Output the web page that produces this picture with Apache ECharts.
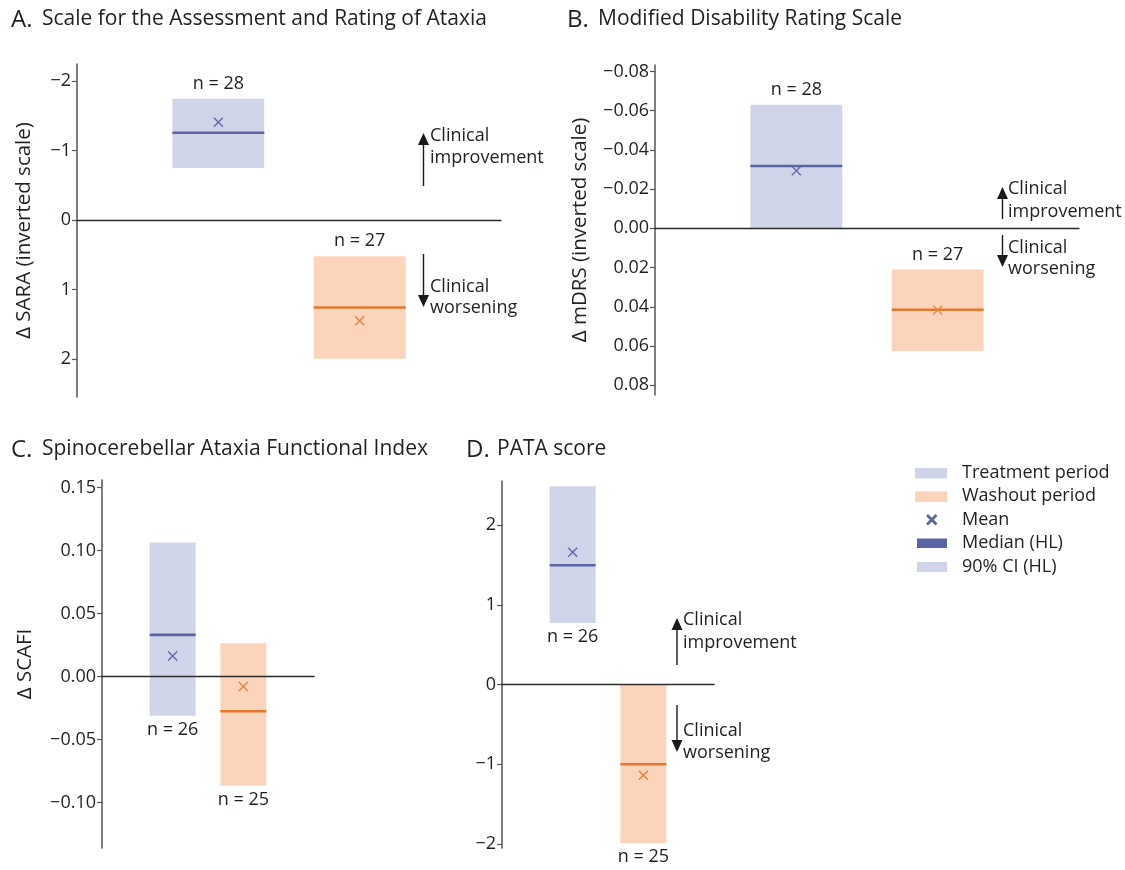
<!DOCTYPE html>
<html><head><meta charset="utf-8">
<script src="https://cdn.jsdelivr.net/npm/echarts@6/dist/echarts.min.js"></script>
<style>html,body{margin:0;padding:0;background:#fff}#c{width:1125px;height:870px}</style>
</head><body><div id="c"></div>
<script>
// ---------- DATA ----------
const periods = ['Treatment period', 'Washout period'];
const positions = [1, 2];

// A. SARA (inverted)
const saraCiLow = [-1.75, 0.52];
const saraCiHigh = [-0.75, 2.00];
const saraMedian = [-1.26, 1.26];
const saraMean = [-1.41, 1.45];
const saraN = [28, 27];
const saraTicks = [-2, -1, 0, 1, 2];

// B. mDRS (inverted)
const mdrsCiLow = [-0.063, 0.021];
const mdrsCiHigh = [0.0, 0.0625];
const mdrsMedian = [-0.0318, 0.0415];
const mdrsMean = [-0.0294, 0.0417];
const mdrsN = [28, 27];
const mdrsTicks = [-0.08, -0.06, -0.04, -0.02, 0, 0.02, 0.04, 0.06, 0.08];

// C. SCAFI
const scafiCiLow = [-0.031, -0.0865];
const scafiCiHigh = [0.1065, 0.0265];
const scafiMedian = [0.0331, -0.0275];
const scafiMean = [0.0164, -0.0079];
const scafiN = [26, 25];
const scafiTicks = [0.15, 0.10, 0.05, 0, -0.05, -0.10];

// D. PATA
const pataCiLow = [0.773, -1.987];
const pataCiHigh = [2.49, 0.0];
const pataMedian = [1.497, -1.0];
const pataMean = [1.66, -1.138];
const pataN = [26, 25];
const pataTicks = [2, 1, 0, -1, -2];

// ---------- STYLE ----------
const FONT = '"Open Sans", "Noto Sans", sans-serif';
const TXT = '#231f20';
const boxFill = ['#d0d4e8', '#fcd4bb'];
const medColor = ['#5a64a5', '#e8772e'];
const meanColor = ['#5e68aa', '#e8803c'];
const HALF = 0.325;

function minus(s) { return s.replace('-', '\u2212'); }

const panels = [
  { grid: { left: 77, top: 64, width: 424, height: 333 }, min: -2.25, max: 2.55, inverse: true, dec: 0,
    ticks: saraTicks, name: 'Δ SARA (inverted scale)', nameGap: 42, nSide: 'top',
    lo: saraCiLow, hi: saraCiHigh, med: saraMedian, mean: saraMean, n: saraN },
  { grid: { left: 655, top: 65, width: 424, height: 330 }, min: -0.0833, max: 0.085, inverse: true, dec: 2,
    ticks: mdrsTicks, name: 'Δ mDRS (inverted scale)', nameGap: 64, nSide: 'top',
    lo: mdrsCiLow, hi: mdrsCiHigh, med: mdrsMedian, mean: mdrsMean, n: mdrsN },
  { grid: { left: 102, top: 480, width: 212, height: 368 }, min: -0.136, max: 0.156, inverse: false, dec: 2,
    ticks: scafiTicks, name: 'Δ SCAFI', nameGap: 66, nSide: 'bottom',
    lo: scafiCiLow, hi: scafiCiHigh, med: scafiMedian, mean: scafiMean, n: scafiN },
  { grid: { left: 502, top: 481, width: 212, height: 367 }, min: -2.05, max: 2.555, inverse: false, dec: 0,
    ticks: pataTicks, name: '', nameGap: 40, nSide: 'bottom',
    lo: pataCiLow, hi: pataCiHigh, med: pataMedian, mean: pataMean, n: pataN }
];

const grid = [], xAxis = [], yAxis = [], series = [];
panels.forEach((p, k) => {
  grid.push(Object.assign({ containLabel: false }, p.grid));
  xAxis.push({
    type: 'value', gridIndex: k, min: 0, max: 3, z: 5,
    axisLine: { show: true, onZero: true, lineStyle: { color: '#2b2b2b', width: 1.3 } },
    axisTick: { show: false }, axisLabel: { show: false }, splitLine: { show: false }
  });
  yAxis.push({
    type: 'value', gridIndex: k, min: p.min, max: p.max, inverse: p.inverse,
    name: p.name, nameLocation: 'middle', nameGap: p.nameGap,
    nameTextStyle: { fontFamily: FONT, fontSize: 20.5, color: TXT },
    axisLine: { show: true, lineStyle: { color: '#555', width: 1.5 } },
    axisTick: { show: true, length: 5, customValues: p.ticks, lineStyle: { color: '#555', width: 1.2 } },
    axisLabel: { show: true, customValues: p.ticks, margin: 6, fontFamily: FONT, fontSize: 18, color: TXT,
      formatter: v => minus(Number(v).toFixed(p.dec)) },
    splitLine: { show: false }
  });
  const data = positions.map((x, i) => [x, p.lo[i], p.hi[i], p.med[i], p.mean[i], p.n[i]]);
  series.push({
    type: 'custom', xAxisIndex: k, yAxisIndex: k, z: 2, clip: false,
    encode: { x: 0, y: [1, 2, 3, 4] },
    data: data,
    renderItem: function (params, api) {
      const i = params.dataIndex;
      const x = api.value(0);
      const a = api.coord([x - HALF, api.value(1)]);
      const b = api.coord([x + HALF, api.value(2)]);
      const left = Math.min(a[0], b[0]), right = Math.max(a[0], b[0]);
      const top = Math.min(a[1], b[1]), bottom = Math.max(a[1], b[1]);
      const ym = api.coord([x, api.value(3)])[1];
      const pm = api.coord([x, api.value(4)]);
      const cx = (left + right) / 2;
      const s = 4.5;
      const ny = p.nSide === 'top' ? top - 15 : bottom + 14;
      return {
        type: 'group',
        children: [
          { type: 'rect', shape: { x: left, y: top, width: right - left, height: bottom - top },
            style: { fill: boxFill[i] } },
          { type: 'line', shape: { x1: left, y1: ym, x2: right, y2: ym },
            style: { stroke: medColor[i], lineWidth: 2.6 } },
          { type: 'line', shape: { x1: pm[0] - s, y1: pm[1] - s, x2: pm[0] + s, y2: pm[1] + s },
            style: { stroke: meanColor[i], lineWidth: 1.3 } },
          { type: 'line', shape: { x1: pm[0] - s, y1: pm[1] + s, x2: pm[0] + s, y2: pm[1] - s },
            style: { stroke: meanColor[i], lineWidth: 1.3 } },
          { type: 'text', style: { text: 'n = ' + api.value(5), x: cx, y: ny, fill: TXT,
            fontFamily: FONT, fontSize: 18, align: 'center', verticalAlign: 'middle' } }
        ]
      };
    }
  });
});

// ---------- annotations ----------
const graphic = [];
function title(x, y, letter, text) {
  graphic.push({ type: 'text', left: x, top: y - 15, style: { text: letter, fontFamily: FONT, fontSize: 24, fill: TXT } });
  graphic.push({ type: 'text', left: x + 31, top: y - 14, style: { text: text, fontFamily: FONT, fontSize: 21, fill: TXT } });
}
title(11, 23, 'A.', 'Scale for the Assessment and Rating of Ataxia');
title(567, 23, 'B.', 'Modified Disability Rating Scale');
title(11, 453, 'C.', 'Spinocerebellar Ataxia Functional Index');
title(466, 453, 'D.', 'PATA score');

function arrow(x, yTail, yTip) {
  const dir = yTip < yTail ? -1 : 1;
  const hh = 12, hw = 5.5;
  graphic.push({ type: 'line', shape: { x1: x, y1: yTail, x2: x, y2: yTip - dir * hh + dir * 1 },
    style: { stroke: '#1a1a1a', lineWidth: 1.4 } });
  graphic.push({ type: 'polygon', shape: { points: [[x, yTip], [x - hw, yTip - dir * hh], [x + hw, yTip - dir * hh]] },
    style: { fill: '#1a1a1a' } });
}
function label2(x, y1, t1, y2, t2) {
  graphic.push({ type: 'text', x: x, y: y1, style: { text: t1, fontFamily: FONT, fontSize: 18, fill: TXT, verticalAlign: 'middle' } });
  graphic.push({ type: 'text', x: x, y: y2, style: { text: t2, fontFamily: FONT, fontSize: 18, fill: TXT, verticalAlign: 'middle' } });
}
// A
arrow(423.5, 186, 133); label2(430, 136, 'Clinical', 158, 'improvement');
arrow(423.5, 254, 307); label2(430, 287, 'Clinical', 308, 'worsening');
// B
arrow(1002.5, 219, 187); label2(1008, 189, 'Clinical', 211.5, 'improvement');
arrow(1002.5, 235, 267); label2(1008, 248, 'Clinical', 269, 'worsening');
// D
arrow(677, 665, 618); label2(683, 620, 'Clinical', 642.5, 'improvement');
arrow(677, 705, 752); label2(683, 731, 'Clinical', 753, 'worsening');

// legend
const legendItems = ['Treatment period', 'Washout period', 'Mean', 'Median (HL)', '90% CI (HL)'];
const legY = [472.5, 496, 519.5, 543, 566.5];
graphic.push({ type: 'rect', shape: { x: 915, y: 468, width: 32, height: 10.5 }, style: { fill: boxFill[0] } });
graphic.push({ type: 'rect', shape: { x: 915, y: 491.5, width: 32, height: 10.5 }, style: { fill: boxFill[1] } });
graphic.push({ type: 'line', shape: { x1: 927, y1: 515, x2: 936.5, y2: 524.5 }, style: { stroke: '#5a64a5', lineWidth: 2.6 } });
graphic.push({ type: 'line', shape: { x1: 927, y1: 524.5, x2: 936.5, y2: 515 }, style: { stroke: '#5a64a5', lineWidth: 2.6 } });
graphic.push({ type: 'rect', shape: { x: 917, y: 538.5, width: 30, height: 9.5 }, style: { fill: '#5a64a5' } });
graphic.push({ type: 'rect', shape: { x: 917, y: 562, width: 30, height: 10 }, style: { fill: boxFill[0] } });
legendItems.forEach((t, i) => {
  graphic.push({ type: 'text', x: 962, y: legY[i], style: { text: t, fontFamily: FONT, fontSize: 18, fill: TXT, verticalAlign: 'middle' } });
});

const chart = echarts.init(document.getElementById('c'), null, { renderer: 'canvas' });
chart.setOption({
  animation: false,
  backgroundColor: '#ffffff',
  textStyle: { fontFamily: FONT },
  grid, xAxis, yAxis, series, graphic
});
</script>
</body></html>
